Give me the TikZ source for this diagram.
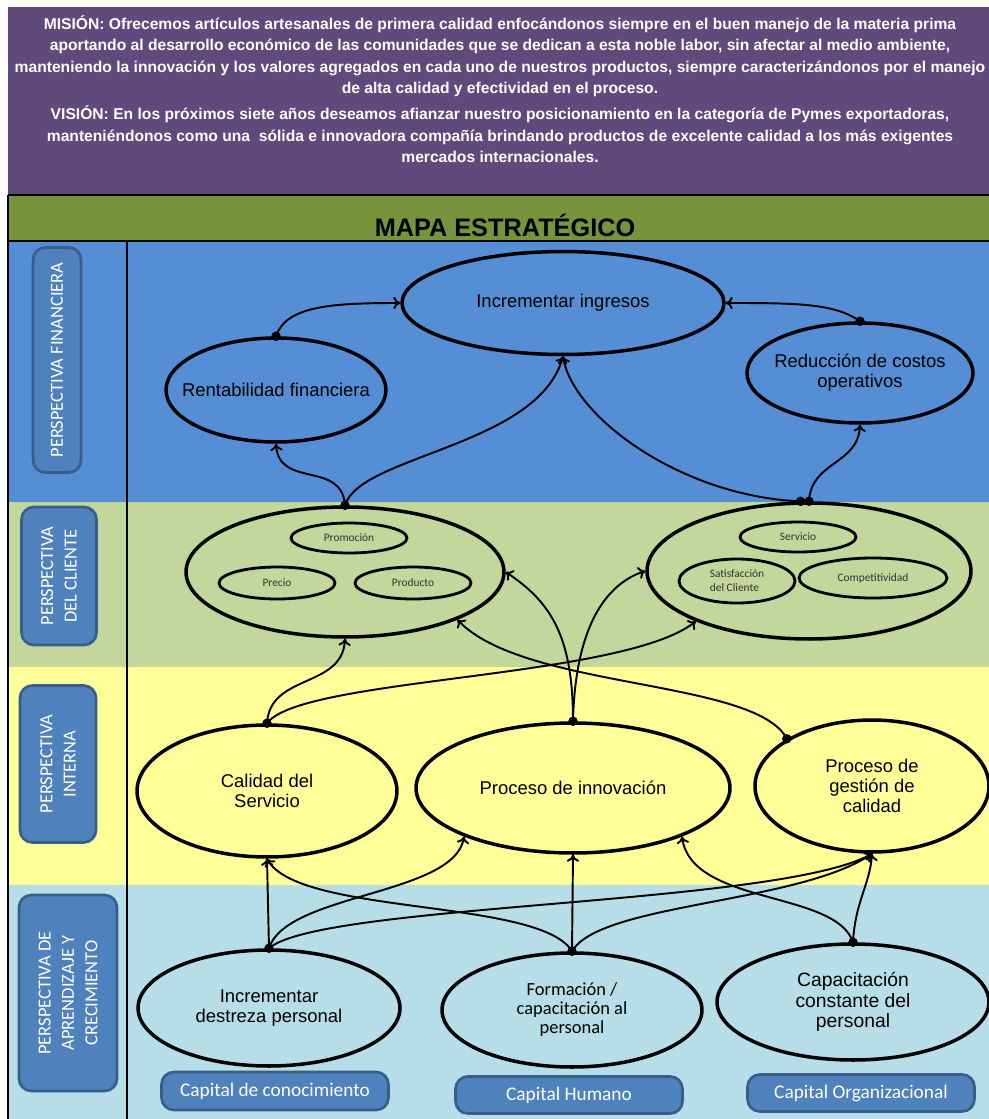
\documentclass[tikz,border=0pt]{standalone}
\usepackage{fontspec}
\setmainfont{Liberation Sans}
\newfontfamily\calib{Carlito}
\usetikzlibrary{shapes.geometric,arrows.meta}
\definecolor{mauve}{RGB}{96,74,123}
\definecolor{hdrgreen}{RGB}{119,147,60}
\definecolor{finblue}{RGB}{85,142,213}
\definecolor{cligreen}{RGB}{195,214,155}
\definecolor{intyellow}{RGB}{255,255,153}
\definecolor{apblue}{RGB}{183,222,232}
\definecolor{labfill}{RGB}{79,129,189}
\definecolor{labline}{RGB}{56,93,138}
\tikzset{wh/.style 2 args={minimum width=#1cm, minimum height=#2cm}}
\tikzset{obj/.style={ellipse, draw, line width=2pt, inner xsep=-12pt, inner ysep=0pt,
      align=center, font=\fontsize{10.5}{11.5}\selectfont}}
\tikzset{sub/.style={ellipse, draw, line width=1.6pt, inner sep=0pt, align=center,
      text=black!80, font=\calib\fontsize{6.5}{8}\selectfont}}
\tikzset{lab/.style={rounded corners=7pt, draw=labline, line width=1.5pt, fill=labfill,
      text=white, align=center, font=\calib\fontsize{10.5}{13.3}\selectfont}}
\tikzset{link/.style={line width=1.1pt, -{To[length=4pt,width=7pt]}}}

\begin{document}
\begin{tikzpicture}[x=0.02cm,y=-0.02cm,thick]
    \useasboundingbox (0,0) rectangle (989,1119);
    \fill[mauve] (8,7) rectangle (989,195);
    \fill[hdrgreen] (8,195) rectangle (989,241);
    \fill[finblue] (8,241) rectangle (989,502);
    \fill[cligreen] (8,502) rectangle (989,667);
    \fill[intyellow] (8,667) rectangle (989,885);
    \fill[apblue] (8,885) rectangle (989,1119);
    \draw[line width=1.6pt] (8,195) -- (989,195);
    \draw[line width=1.6pt] (8,241) -- (989,241);
    \draw[line width=1.6pt] (8,195) -- (8,1119);
    \draw[line width=1.6pt] (127,241) -- (127,1119);

    \node[text=white, align=center, font=\bfseries\fontsize{8.9}{12.3}\selectfont] (mision) at (500,89)
      {MISIÓN: Ofrecemos artículos artesanales de primera calidad enfocándonos siempre en el buen manejo de la materia prima\\
       aportando al desarrollo económico de las comunidades que se dedican a esta noble labor, sin afectar al medio ambiente,\\
       manteniendo la innovación y los valores agregados en cada uno de nuestros productos, siempre caracterizándonos por el manejo\\
       de alta calidad y efectividad en el proceso.\\[2.2pt]
       VISIÓN: En los próximos siete años deseamos afianzar nuestro posicionamiento en la categoría de Pymes exportadoras,\\
       manteniéndonos como una \ sólida e innovadora compañía brindando productos de excelente calidad a los más exigentes\\
       mercados internacionales.};
    \node[font=\bfseries\fontsize{14.4}{16}\selectfont] (titulo) at (505,225) {MAPA ESTRATÉGICO};

    \node[lab, rotate=90, wh={4.5}{0.96}] (pfin) at (57,360) {PERSPECTIVA FINANCIERA};
    \node[lab, rotate=90, wh={2.76}{1.5}] (pcli) at (59,576) {PERSPECTIVA\\DEL CLIENTE};
    \node[lab, rotate=90, wh={3.14}{1.52}] (pint) at (58,764) {PERSPECTIVA\\INTERNA};
    \node[lab, rotate=90, wh={3.92}{1.96}] (papr) at (68,993) {PERSPECTIVA DE\\APRENDIZAJE Y\\CRECIMIENTO};

    \node[obj, wh={6.44}{2.06}] (ingr) at (563,303) {Incrementar ingresos};
    \node[obj, wh={4.4}{2.08}] (renta) at (276,390) {Rentabilidad financiera};
    \node[obj, wh={4.52}{2.0}] (reduc) at (860,373) {Reducción de costos\\operativos};

    \node[obj, wh={6.36}{2.6}] (cli1) at (345,572) {};
    \node[sub, wh={2.32}{0.6}] (promo) at (349,538) {Promoción};
    \node[sub, wh={2.32}{0.64}] (precio) at (277,583) {Precio};
    \node[sub, wh={2.32}{0.64}] (produc) at (413,583) {Producto};
    \node[obj, wh={6.48}{2.72}] (cli2) at (809,571) {};
    \node[sub, wh={2.32}{0.6}] (serv) at (798,537) {Servicio};
    \node[sub, align=left, wh={2.32}{0.88}] (satis) at (737,581) {Satisfacción\\del Cliente};
    \node[sub, wh={2.96}{0.8}] (compet) at (873,578) {Competitividad};

    \node[obj, wh={5.2}{2.64}] (calid) at (267,791) {Calidad del\\Servicio};
    \node[obj, wh={6.28}{2.6}] (innov) at (573,788) {Proceso de innovación};
    \node[obj, wh={4.68}{2.64}] (gest) at (872,786) {Proceso de\\gestión de\\calidad};

    \node[obj, wh={5.24}{2.32}] (dest) at (269,1008) {Incrementar\\destreza personal};
    \node[obj, wh={5.2}{2.28}, font=\calib\fontsize{10.5}{10.8}\selectfont] (form) at (572,1010)
      {Formación /\\capacitación al\\personal};
    \node[obj, wh={5.44}{2.32}, font=\fontsize{11}{11.5}\selectfont] (capac) at (853,1002)
      {Capacitación\\constante del\\personal};

    \node[lab, wh={4.54}{0.76}, font=\calib\fontsize{11}{13}\selectfont] (conoc) at (275,1091) {Capital de conocimiento};
    \node[lab, wh={4.54}{0.74}, font=\calib\fontsize{11}{13}\selectfont] (human) at (569,1095) {Capital Humano};
    \node[lab, wh={4.54}{0.74}, font=\calib\fontsize{11}{13}\selectfont] (organ) at (861,1093) {Capital Organizacional};

    \draw[link] (renta.north) .. controls +(10,-30) and +(-70,0) .. (ingr.west);
    \draw[link] (reduc.north) .. controls +(-25,-18) and +(70,0) .. (ingr.east);
    \draw[link] (cli1.north) .. controls +(-3,-45) and +(3,45) .. (renta.south);
    \draw[link] (cli1.north) .. controls +(15,-50) and +(-25,90) .. (ingr.south);
    \draw[link] (cli2.97) .. controls +(-120,-5) and +(10,60) .. (ingr.south);
    \draw[link] (cli2.90) .. controls +(2,-40) and +(-2,40) .. (reduc.south);

    \draw[link] (calid.north) .. controls +(3,-50) and +(-3,50) .. (cli1.south);
    \draw[link] (calid.north) .. controls +(34,-46) and +(-75,58) .. (cli2.204);
    \draw[link] (innov.north) .. controls +(0,-85) and +(45,30) .. (cli1.east);
    \draw[link] (innov.north) .. controls +(2,-85) and +(-45,15) .. (cli2.west);
    \draw[link] (gest.151) .. controls +(-31,-60) and +(67,70) .. (cli1.337);

    \draw[link] (dest.north) -- (calid.south);
    \draw[link] (dest.north) .. controls +(17,-55) and +(-10,59) .. (innov.204);
    \draw[link] (dest.north) .. controls +(52,-45) and +(-95,52) .. (gest.south);
    \draw[link] (form.north) -- (innov.south);
    \draw[link] (form.north) .. controls +(-32,-53) and +(33,57) .. (calid.south);
    \draw[link] (form.north) .. controls +(28,-48) and +(-75,50) .. (gest.south);
    \draw[link] (capac.north) .. controls +(2,-40) and +(-2,30) .. (gest.south);
    \draw[link] (capac.north) .. controls +(-17,-52) and +(10,69) .. (innov.336);

    \foreach \a in {renta.north, reduc.north, cli1.north, cli2.97, cli2.90, calid.north,
                    innov.north, gest.151, dest.north, form.north, capac.north}
      \fill (\a) circle (2.7pt);
  \end{tikzpicture}
\end{document}
